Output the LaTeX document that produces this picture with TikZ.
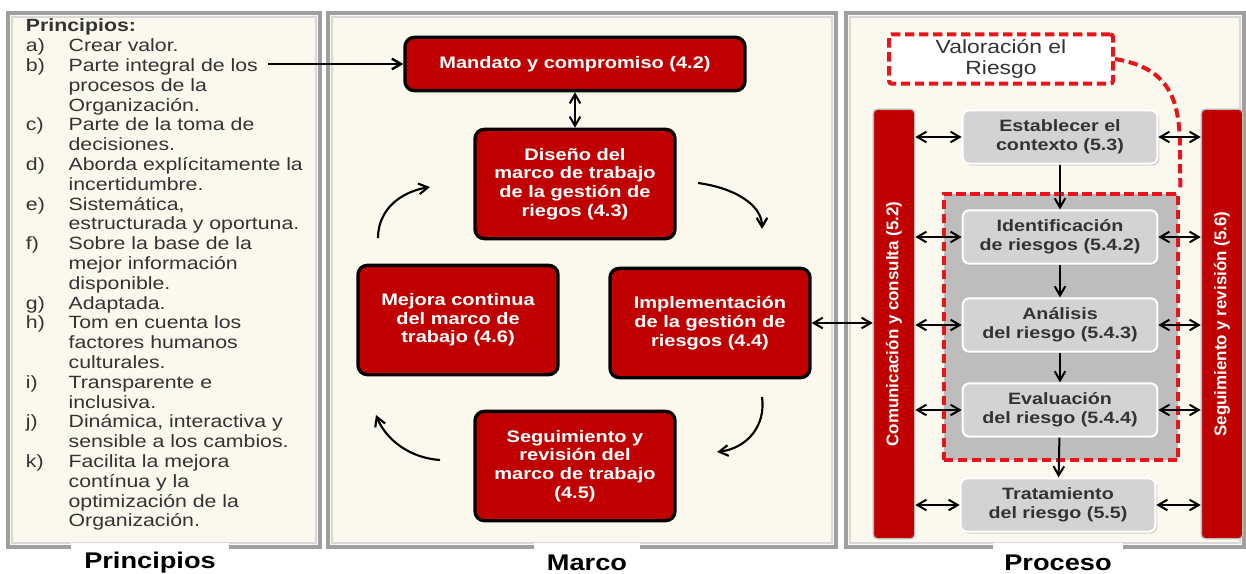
\documentclass[tikz,border=0pt]{standalone}
\usepackage{fontspec}
\setmainfont{Liberation Sans}[FakeStretch=1.2]
\newfontfamily\barfont{Liberation Sans}
\usetikzlibrary{arrows.meta,shadows}

\definecolor{rojo}{HTML}{C00000}
\definecolor{rojodash}{HTML}{E8141C}
\definecolor{crema}{HTML}{FBF9EE}
\definecolor{grisbox}{HTML}{D3D3D3}
\definecolor{grisval}{HTML}{BDBDBD}
\definecolor{texto}{HTML}{333333}

\begin{document}
\begin{tikzpicture}[x=0.75pt,y=-0.75pt,line width=1.5pt,>={Straight Barb[length=2.4mm,width=2.8mm]},
  panel/.style={fill=crema,draw=gray!75,line width=2.5pt},
  marcobox/.style={fill=rojo,draw=black,line width=2.5pt,rounded corners=7pt,text=white,
    font=\bfseries\fontsize{12.5}{14}\selectfont,align=center,minimum width=150pt,minimum height=82pt},
  procbox/.style={fill=grisbox,draw=white,line width=1.5pt,rounded corners=5pt,text=texto,
    font=\bfseries\fontsize{12.3}{14}\selectfont,align=center,minimum width=146pt,minimum height=40pt,
    drop shadow={shadow xshift=1.5pt,shadow yshift=-1.5pt,fill=gray!60}},
  barra/.style={fill=rojo,draw=gray!55,line width=1pt,rounded corners=3pt,text=white,
    font=\barfont\bfseries\fontsize{12.7}{14}\selectfont,minimum width=31pt,minimum height=322pt},
  rayado/.style={draw=rojodash,line width=3pt,dash pattern=on 7pt off 3.5pt},
  etiqueta/.style={fill=white,font=\bfseries\fontsize{17}{20}\selectfont,minimum height=30pt},
  ciclo/.style={->,line width=1.6pt}]
  \fill[white] (0,0) rectangle (1246,574);
  \useasboundingbox (0,0) rectangle (1246,574);
  % paneles
  \foreach \xa/\xb in {8/320,328/836,846/1244}{
    \draw[panel] (\xa,13) rectangle (\xb,547);
    \draw[gray!30,line width=2pt] (\xa+4,17) rectangle (\xb-4,543);
  }
  \node[etiqueta,minimum width=118pt] (lblprin) at (150,563) {Principios};
  \node[etiqueta,minimum width=79pt] (lblmarco) at (587,563) {Marco};
  \node[etiqueta,minimum width=97pt] (lblproc) at (1058,563) {Proceso};
  % principios
  \node[anchor=north west,inner sep=0pt,text=texto,font=\fontsize{13.3}{14.85}\selectfont] (lista) at (25,17) {%
    \begin{tabular}{@{}p{32pt}@{}l@{}}
      \multicolumn{2}{@{}l@{}}{\textbf{Principios:}}\\
      a) & Crear valor.\\
      b) & Parte integral de los\\
         & procesos de la\\
         & Organización.\\
      c) & Parte de la toma de\\
         & decisiones.\\
      d) & Aborda explícitamente la\\
         & incertidumbre.\\
      e) & Sistemática,\\
         & estructurada y oportuna.\\
      f) & Sobre la base de la\\
         & mejor información\\
         & disponible.\\
      g) & Adaptada.\\
      h) & Tom en cuenta los\\
         & factores humanos\\
         & culturales.\\
      i) & Transparente e\\
         & inclusiva.\\
      j) & Dinámica, interactiva y\\
         & sensible a los cambios.\\
      k) & Facilita la mejora\\
         & contínua y la\\
         & optimización de la\\
         & Organización.
    \end{tabular}};
  % marco
  \node[marcobox,minimum width=255pt,minimum height=40pt] (mandato) at (575,64) {Mandato y compromiso (4.2)};
  \node[marcobox] (diseno) at (575,184) {Diseño del\\marco de trabajo\\de la gestión de\\riegos (4.3)};
  \node[marcobox] (mejora) at (458,320) {Mejora continua\\del marco de\\trabajo (4.6)};
  \node[marcobox] (implem) at (710,323) {Implementación\\de la gestión de\\riesgos (4.4)};
  \node[marcobox] (seguim) at (575,466) {Seguimiento y\\revisión del\\marco de trabajo\\(4.5)};
  \coordinate (pb) at (268,64);
  \draw[->,line width=1.8pt] (pb) -- (mandato.west);
  \draw[<->] (mandato) -- (diseno);
  % ciclo
  \coordinate (c1a) at (698,183); \coordinate (c1b) at (762,229);
  \coordinate (c2a) at (762,397); \coordinate (c2b) at (717,452);
  \coordinate (c3a) at (440,460); \coordinate (c3b) at (376,415);
  \coordinate (c4a) at (378,238); \coordinate (c4b) at (430,187);
  \draw[ciclo] (c1a) .. controls (735,188) and (762,205) .. (c1b);
  \draw[ciclo] (c2a) .. controls (766,425) and (748,448) .. (c2b);
  \draw[ciclo] (c3a) .. controls (410,458) and (386,440) .. (c3b);
  \draw[ciclo] (c4a) .. controls (378,210) and (400,192) .. (c4b);
  % proceso
  \node[barra] (barcom) at (894,324) {\rotatebox{90}{Comunicación y consulta (5.2)}};
  \node[barra] (barseg) at (1222,324) {\rotatebox{90}{Seguimiento y revisión (5.6)}};
  \node[rayado,fill=white,minimum width=168pt,minimum height=37pt,rounded corners=2pt,align=center,
    text=texto,font=\fontsize{14.3}{16.3}\selectfont] (valor) at (1001,59) {Valoración el\\Riesgo};
  \node[rayado,fill=grisval,minimum width=176pt,minimum height=200pt] (zona) at (1061,327) {};
  \draw[rayado] (valor.east) .. controls (1170,68) and (1180,100) .. (1180,150) -- (zona.north east);
  \node[procbox] (establ) at (1060,137) {Establecer el\\contexto (5.3)};
  \node[procbox] (ident) at (1060,237) {Identificación\\de riesgos (5.4.2)};
  \node[procbox] (analis) at (1060,325) {Análisis\\del riesgo (5.4.3)};
  \node[procbox] (evalua) at (1060,410) {Evaluación\\del riesgo (5.4.4)};
  \node[procbox] (tratam) at (1058,505) {Tratamiento\\del riesgo (5.5)};
  \foreach \a/\b in {establ/ident,ident/analis,analis/evalua,evalua/tratam}
    \draw[->] (\a) -- (\b);
  \foreach \n in {establ,ident,analis,evalua,tratam}{
    \draw[<->] (barcom.east |- \n) -- (\n.west);
    \draw[<->] (\n.east) -- (barseg.west |- \n);
  }
  \draw[<->] (implem.east) -- (barcom.west |- implem.east);
\end{tikzpicture}
\end{document}
